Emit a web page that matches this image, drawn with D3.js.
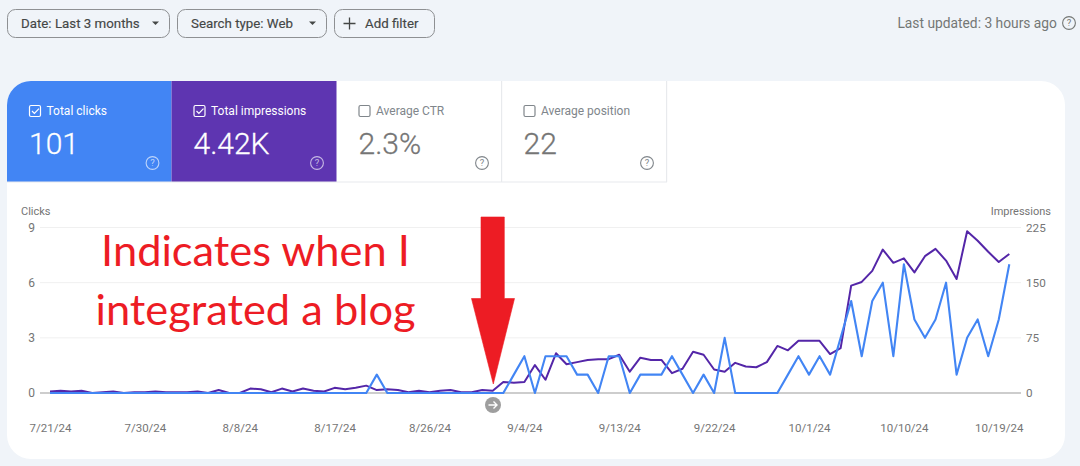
<!DOCTYPE html>
<html><head><meta charset="utf-8">
<script src="https://cdn.jsdelivr.net/npm/d3@7"></script>
<style>
html,body{margin:0;padding:0;background:#f0f4f9;overflow:hidden}
svg{display:block}
text{font-family:Roboto,sans-serif}
</style></head><body><svg id="c" width="1080" height="466"></svg>
<script>
const startDate = "2024-07-21";
const clicks = [0,0,0,0,0,0,0,0,0,0,0,0,0,0,0,0,0,0,0,0,0,0,0,0,0,0,0,0,0,0,0,1,0,0,0,0,0,0,0,0,0,0,0,0,1,2,0,2,2,2,1,1,0,2,2,0,1,1,1,2,1,0,1,0,3,0,0,0,0,0,1,2,1,2,1,3,5,2,5,6,2,7,4,3,4,6,1,3,4,2,4,7];
const impressions = [2,3,2,3,0,1,2,0,1,1,2,1,1,1,2,0,4,0,0,6,5,1,6,2,6,3,2,7,5,7,10,4,5,4,1,3,1,3,4,1,1,4,3,15,14,15,38,18,54,39,42,45,46,46,52,29,48,45,45,27,33,56,52,32,29,41,36,35,42,64,58,71,71,71,53,61,146,151,166,195,177,183,164,186,196,180,155,220,207,192,178,189];
const xTickLabels = ["7/21/24","7/30/24","8/8/24","8/17/24","8/26/24","9/4/24","9/13/24","9/22/24","10/1/24","10/10/24","10/19/24"];
const clickTicks = [0,3,6,9];
const impressionTicks = [0,75,150,225];
const tabs = [
 {label:"Total clicks",value:"101",on:true,bg:"#4285f4"},
 {label:"Total impressions",value:"4.42K",on:true,bg:"#5e35b1"},
 {label:"Average CTR",value:"2.3%",on:false,bg:"#fff"},
 {label:"Average position",value:"22",on:false,bg:"#fff"}];
const chips = [
 {label:"Date: Last 3 months",x0:7,x1:170,tx:21,caret:true},
 {label:"Search type: Web",x0:177,x1:327,tx:191,caret:true},
 {label:"Add filter",x0:334,x1:435,tx:365,plus:true}];
const noteLines = ["Indicates when I","integrated a blog"];

const svg = d3.select("#c");
const parse = d3.timeParse("%Y-%m-%d"), parseTick = d3.timeParse("%-m/%-d/%y");
const dates = clicks.map((_,i)=>d3.timeDay.offset(parse(startDate),i));
const x = d3.scaleTime().domain(d3.extent(dates)).range([50,1009.3]);
const yC = d3.scaleLinear().domain([0,9]).range([393,227.5]);
const yI = d3.scaleLinear().domain([0,225]).range([393,227.5]);

// card
svg.append("rect").attr("x",7).attr("y",81).attr("width",1058).attr("height",378).attr("rx",24).attr("fill","#fff");

// chips
chips.forEach(c=>{
  const g = svg.append("g");
  g.append("rect").attr("x",c.x0+.5).attr("y",9.5).attr("width",c.x1-c.x0-1).attr("height",28).attr("rx",8)
   .attr("fill","#f0f4f9").attr("stroke","#8e9093").attr("stroke-width",1);
  g.append("text").attr("x",c.tx).attr("y",28).attr("font-size",13.3).attr("fill","#444746").attr("stroke","#444746").attr("stroke-width",0.15).text(c.label);
  if(c.caret) g.append("path").attr("d",`M${c.x1-18} 21.5h7l-3.5 3.5z`).attr("fill","#444746");
  if(c.plus) g.append("path").attr("d",`M${c.x0+9.5} 23.5h12M${c.x0+15.5} 17.5v12`).attr("stroke","#444746").attr("stroke-width",1.3).attr("fill","none");
});
svg.append("text").attr("x",1057).attr("y",28).attr("text-anchor","end").attr("font-size",13.8).attr("fill","#747775").text("Last updated: 3 hours ago");
function help(cx,cy,col){
  const g = svg.append("g");
  g.append("circle").attr("cx",cx).attr("cy",cy).attr("r",6.4).attr("fill","none").attr("stroke",col).attr("stroke-width",1.1);
  g.append("text").attr("x",cx).attr("y",cy+3.4).attr("text-anchor","middle").attr("font-size",9.5).attr("fill",col).text("?");
}
help(1069,23,"#747775");

// tabs
const tabW = 165, tabX0 = 7;
tabs.forEach((t,i)=>{
  const tx = tabX0 + i*tabW - (i?0.5:0), g = svg.append("g");
  const fg = t.on?"#fff":"#757575";
  if(i<2){
    g.append("path").attr("d", i==0?"M7 182V105a24 24 0 0 1 24-24H171.5V182Z":"M171.5 81H336.5V182H171.5Z").attr("fill",t.bg);
  } else {
    g.append("rect").attr("x",tx+165-.5).attr("y",81).attr("width",1.2).attr("height",101).attr("fill","#e8eaed");
  }
  const lx = tx+22;
  g.append("rect").attr("x",lx+.5).attr("y",105.5).attr("width",11).attr("height",11).attr("rx",1.5).attr("fill","none").attr("stroke",t.on?"#fff":"#80868b").attr("stroke-width",1.2);
  if(t.on) g.append("path").attr("d",`M${lx+3} 111l2.4 2.4 4.6-4.8`).attr("fill","none").attr("stroke","#fff").attr("stroke-width",1.2);
  g.append("text").attr("x",lx+17.5).attr("y",115).attr("font-size",12).attr("fill",t.on?"#fff":"#80868b").text(t.label);
  g.append("text").attr("x",lx).attr("y",154).attr("font-size",30).attr("font-weight",300).attr("fill",fg).attr("stroke",fg).attr("stroke-width",.3).text(t.value);
  help(tx+145.5,163,t.on?"rgba(255,255,255,.65)":"#80868b");
});
svg.append("rect").attr("x",7).attr("y",181.5).attr("width",660).attr("height",1).attr("fill","#e8eaed");

// axes titles
svg.append("text").attr("x",21).attr("y",215).attr("font-size",11).attr("fill","#757575").text("Clicks");
svg.append("text").attr("x",1051).attr("y",215).attr("text-anchor","end").attr("font-size",11).attr("fill","#757575").text("Impressions");

// grid
svg.append("g").selectAll("line").data(clickTicks).join("line")
  .attr("x1",40).attr("x2",1021).attr("y1",d=>yC(d)).attr("y2",d=>yC(d))
  .attr("stroke",d=>d===0?"#bdbdbd":"#f0f0f0").attr("stroke-width",d=>d===0?1.6:1);

// axes
function style(g,size){ g.select(".domain").remove(); g.selectAll(".tick line").remove();
  g.selectAll("text").attr("font-family","Roboto,sans-serif").attr("font-size",size).attr("fill","#757575"); }
svg.append("g").attr("transform","translate(36,0)")
  .call(d3.axisLeft(yC).tickValues(clickTicks).tickSize(0).tickPadding(1)).call(g=>style(g,12));
svg.append("g").attr("transform","translate(1026,0)")
  .call(d3.axisRight(yI).tickValues(impressionTicks).tickSize(0).tickPadding(0)).call(g=>style(g,11.7));
svg.append("g").attr("transform","translate(0,420)")
  .call(d3.axisBottom(x).tickValues(xTickLabels.map(parseTick)).tickFormat(d3.timeFormat("%-m/%-d/%y")).tickSize(0).tickPadding(4)).call(g=>style(g,11.5));

// lines
const lineI = d3.line().x((d,i)=>x(dates[i])).y(d=>yI(d));
const lineC = d3.line().x((d,i)=>x(dates[i])).y(d=>yC(d));
svg.append("path").datum(impressions).attr("d",lineI).attr("fill","none").attr("stroke","#5426a8").attr("stroke-width",2).attr("stroke-linejoin","round");
svg.append("path").datum(clicks).attr("d",lineC).attr("fill","none").attr("stroke","#4285f4").attr("stroke-width",2.1).attr("stroke-linejoin","round");

// annotation marker
const mg = svg.append("g");
mg.append("circle").attr("cx",493).attr("cy",405).attr("r",8).attr("fill","#9e9e9e");
mg.append("path").attr("d","M488.5 405h8M493.5 401.5l3.5 3.5-3.5 3.5").attr("fill","none").attr("stroke","#fff").attr("stroke-width",1.4);

// red note
svg.append("path").attr("d","M481 217H504.3V298.5H514.5L493.3 384L471.5 298.5H481Z").attr("fill","#ed1c24").attr("stroke","#ed1c24").attr("stroke-width",.6).attr("stroke-linejoin","round");
noteLines.forEach((s,i)=>svg.append("text").attr("x",255.5).attr("y",[265.5,325][i]).attr("text-anchor","middle")
  .attr("style","font-family:Lato,sans-serif").attr("font-size",43.4).attr("fill","#ed1c24").text(s));
</script></body></html>
